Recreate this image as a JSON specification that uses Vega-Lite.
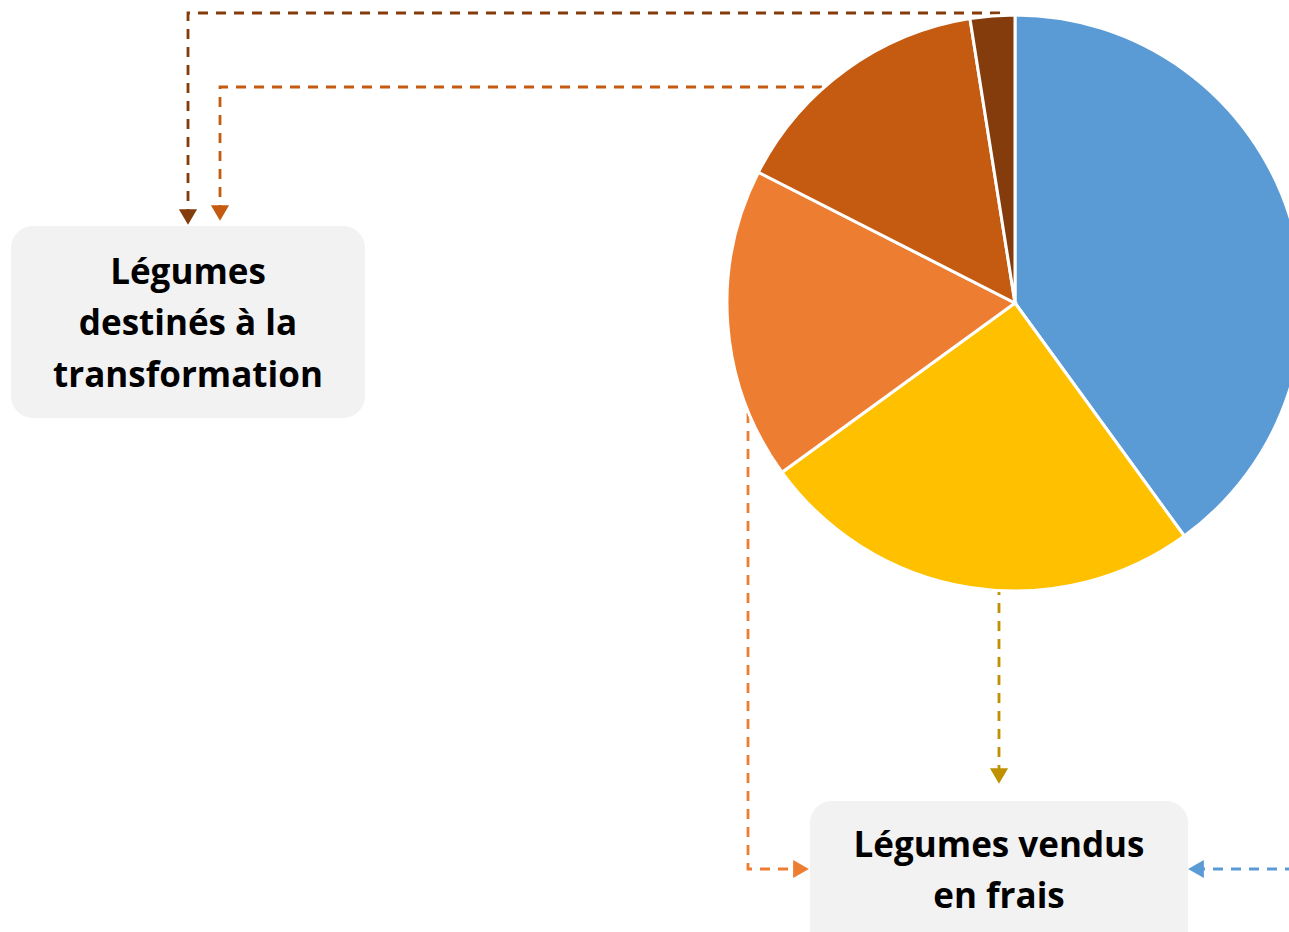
{
  "$schema": "https://vega.github.io/schema/vega-lite/v6.json",
  "width": 1289,
  "height": 932,
  "autosize": {"type": "none"},
  "padding": 0,
  "background": "white",
  "config": {"view": {"stroke": null}},
  "datasets": {
    "pie": [
      {"part": "Part 1", "rang": 1, "valeur": 40},
      {"part": "Part 2", "rang": 2, "valeur": 25},
      {"part": "Part 3", "rang": 3, "valeur": 17.5},
      {"part": "Part 4", "rang": 4, "valeur": 15},
      {"part": "Part 5", "rang": 5, "valeur": 2.5}
    ],
    "paths": [
      {"serie": "Part 5", "etape": 1, "x": 1000, "y": 13},
      {"serie": "Part 5", "etape": 2, "x": 188, "y": 13},
      {"serie": "Part 5", "etape": 3, "x": 188, "y": 211},
      {"serie": "Part 4", "etape": 1, "x": 840, "y": 87},
      {"serie": "Part 4", "etape": 2, "x": 220, "y": 87},
      {"serie": "Part 4", "etape": 3, "x": 220, "y": 207},
      {"serie": "Part 3", "etape": 1, "x": 748, "y": 395},
      {"serie": "Part 3", "etape": 2, "x": 748, "y": 869},
      {"serie": "Part 3", "etape": 3, "x": 795, "y": 869},
      {"serie": "Part 2", "etape": 1, "x": 999, "y": 585},
      {"serie": "Part 2", "etape": 2, "x": 999, "y": 770},
      {"serie": "Part 1", "etape": 1, "x": 1295, "y": 869},
      {"serie": "Part 1", "etape": 2, "x": 1201, "y": 869}
    ],
    "arrows": [
      {"serie": "Part 5", "sens": "bas", "x": 188, "y": 217},
      {"serie": "Part 4", "sens": "bas", "x": 220, "y": 213},
      {"serie": "Part 3", "sens": "droite", "x": 801, "y": 869},
      {"serie": "Part 2", "sens": "bas", "x": 999, "y": 776},
      {"serie": "Part 1", "sens": "gauche", "x": 1196, "y": 869}
    ],
    "boxes": [
      {"nom": "transformation", "x1": 11, "x2": 365, "y1": 226, "y2": 418},
      {"nom": "frais", "x1": 810, "x2": 1188, "y1": 801, "y2": 960}
    ],
    "labels": [
      {"texte": "Légumes", "x": 188, "y": 273},
      {"texte": "destinés à la", "x": 188, "y": 324},
      {"texte": "transformation", "x": 188, "y": 376},
      {"texte": "Légumes vendus", "x": 999, "y": 846},
      {"texte": "en frais", "x": 999, "y": 897}
    ]
  },
  "resolve": {"scale": {"color": "independent", "shape": "independent"}},
  "layer": [
    {
      "data": {"name": "boxes"},
      "mark": {"type": "rect", "cornerRadius": 22, "color": "#F2F2F2"},
      "encoding": {
        "x": {"field": "x1", "type": "quantitative", "axis": null, "scale": {"domain": [0, 1289], "nice": false, "zero": false}},
        "x2": {"field": "x2"},
        "y": {"field": "y1", "type": "quantitative", "axis": null, "scale": {"domain": [0, 932], "nice": false, "zero": false, "reverse": true}},
        "y2": {"field": "y2"}
      }
    },
    {
      "data": {"name": "paths"},
      "mark": {"type": "line", "strokeWidth": 2.8, "strokeDash": [10, 8]},
      "encoding": {
        "x": {"field": "x", "type": "quantitative", "axis": null, "scale": {"domain": [0, 1289], "nice": false, "zero": false}},
        "y": {"field": "y", "type": "quantitative", "axis": null, "scale": {"domain": [0, 932], "nice": false, "zero": false, "reverse": true}},
        "detail": {"field": "serie"},
        "order": {"field": "etape"},
        "color": {"field": "serie", "type": "nominal", "legend": null,
          "scale": {"domain": ["Part 1", "Part 2", "Part 3", "Part 4", "Part 5"], "range": ["#5B9BD5", "#BF9000", "#ED7D31", "#C55A11", "#843C0C"]}}
      }
    },
    {
      "data": {"name": "arrows"},
      "mark": {"type": "point", "filled": true, "opacity": 1, "size": 330},
      "encoding": {
        "x": {"field": "x", "type": "quantitative", "axis": null, "scale": {"domain": [0, 1289], "nice": false, "zero": false}},
        "y": {"field": "y", "type": "quantitative", "axis": null, "scale": {"domain": [0, 932], "nice": false, "zero": false, "reverse": true}},
        "shape": {"field": "sens", "type": "nominal", "legend": null,
          "scale": {"domain": ["bas", "droite", "gauche"], "range": ["triangle-down", "triangle-right", "triangle-left"]}},
        "color": {"field": "serie", "type": "nominal", "legend": null,
          "scale": {"domain": ["Part 1", "Part 2", "Part 3", "Part 4", "Part 5"], "range": ["#5B9BD5", "#BF9000", "#ED7D31", "#C55A11", "#843C0C"]}}
      }
    },
    {
      "data": {"name": "pie"},
      "mark": {"type": "arc", "outerRadius": 288, "stroke": "white", "strokeWidth": 3},
      "encoding": {
        "x": {"datum": 1015, "type": "quantitative", "axis": null, "scale": {"domain": [0, 1289], "nice": false, "zero": false}},
        "y": {"datum": 303, "type": "quantitative", "axis": null, "scale": {"domain": [0, 932], "nice": false, "zero": false, "reverse": true}},
        "theta": {"field": "valeur", "type": "quantitative", "stack": true},
        "order": {"field": "rang"},
        "color": {"field": "part", "type": "nominal", "legend": null,
          "scale": {"domain": ["Part 1", "Part 2", "Part 3", "Part 4", "Part 5"], "range": ["#5B9BD5", "#FFC000", "#ED7D31", "#C55A11", "#843C0C"]}}
      }
    },
    {
      "data": {"name": "labels"},
      "mark": {"type": "text", "font": "Open Sans", "fontWeight": "bold", "fontSize": 35, "align": "center", "baseline": "middle", "color": "black"},
      "encoding": {
        "x": {"field": "x", "type": "quantitative", "axis": null, "scale": {"domain": [0, 1289], "nice": false, "zero": false}},
        "y": {"field": "y", "type": "quantitative", "axis": null, "scale": {"domain": [0, 932], "nice": false, "zero": false, "reverse": true}},
        "text": {"field": "texte"}
      }
    }
  ]
}
